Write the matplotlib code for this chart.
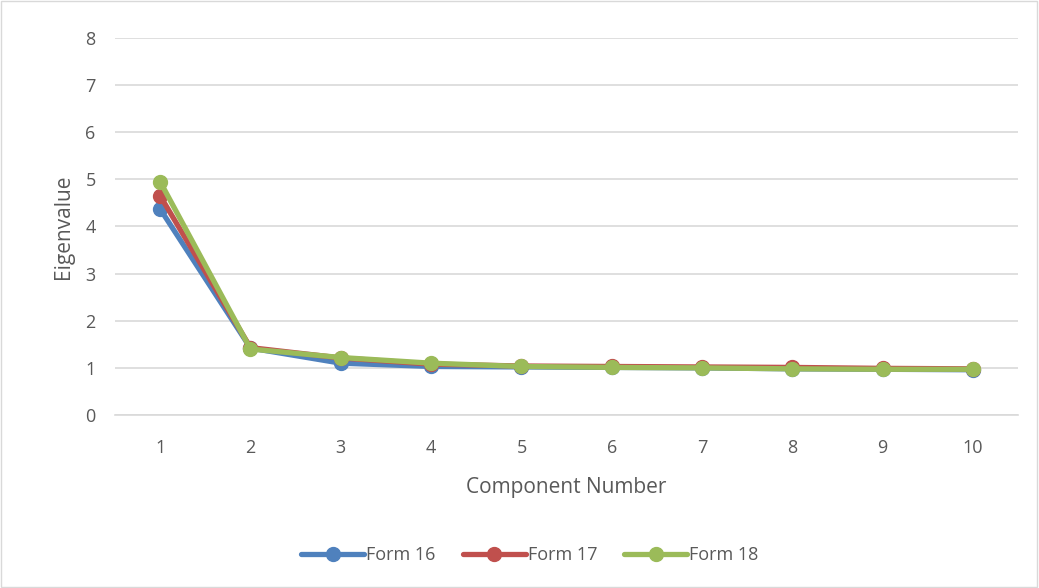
import matplotlib
matplotlib.use("Agg")
import matplotlib.pyplot as plt
from matplotlib.patches import Rectangle

components = [1, 2, 3, 4, 5, 6, 7, 8, 9, 10]
form16 = [4.37, 1.42, 1.10, 1.03, 1.02, 1.01, 1.00, 0.98, 0.97, 0.96]
form17 = [4.65, 1.43, 1.21, 1.08, 1.04, 1.03, 1.02, 1.01, 0.99, 0.98]
form18 = [4.95, 1.40, 1.22, 1.10, 1.03, 1.01, 1.00, 0.98, 0.97, 0.97]
series = [("Form 16", form16, "#4F81BD"),
          ("Form 17", form17, "#C0504D"),
          ("Form 18", form18, "#9BBB59")]
yticks = [0, 1, 2, 3, 4, 5, 6, 7, 8]

plt.rcParams['font.family'] = ['Open Sans', 'DejaVu Sans']
txt = "#595959"

fig = plt.figure(figsize=(10.39, 5.88), dpi=100)
ax = fig.add_axes([0.1107, 0.2942, 0.98 - 0.1107, 0.9354 - 0.2942])

for name, vals, col in series:
    ax.plot(components, vals, color=col, lw=3.8, marker='o', ms=10,
            label=name, solid_capstyle='round', solid_joinstyle='round')

ax.set_xlim(0.5, 10.5)
ax.set_ylim(0, 8)
ax.set_yticks(yticks)
ax.set_xticks(components)
ax.grid(axis='y', color='#D9D9D9', lw=1.2)
ax.set_axisbelow(True)
for s in ['top', 'right', 'left']:
    ax.spines[s].set_visible(False)
ax.spines['bottom'].set_color('#D9D9D9')
ax.spines['bottom'].set_linewidth(1.2)
ax.tick_params(axis='both', length=0, labelsize=13, colors=txt)
ax.tick_params(axis='x', pad=17)
ax.tick_params(axis='y', pad=14)
ax.set_xlabel("Component Number", fontsize=15, color=txt, labelpad=15)
ax.set_ylabel("Eigenvalue", fontsize=15, color=txt, labelpad=8)

leg = fig.legend(loc='center', bbox_to_anchor=(0.51, 0.056), ncol=3, frameon=False,
                 fontsize=13, handlelength=3.5, columnspacing=1.5, handletextpad=0.1)
for t in leg.get_texts():
    t.set_color(txt)

fig.patches.append(Rectangle((0.001, 0.002), 0.997, 0.996, transform=fig.transFigure,
                             fill=False, edgecolor='#D9D9D9', lw=1))

fig.savefig("out.png", dpi=100)
